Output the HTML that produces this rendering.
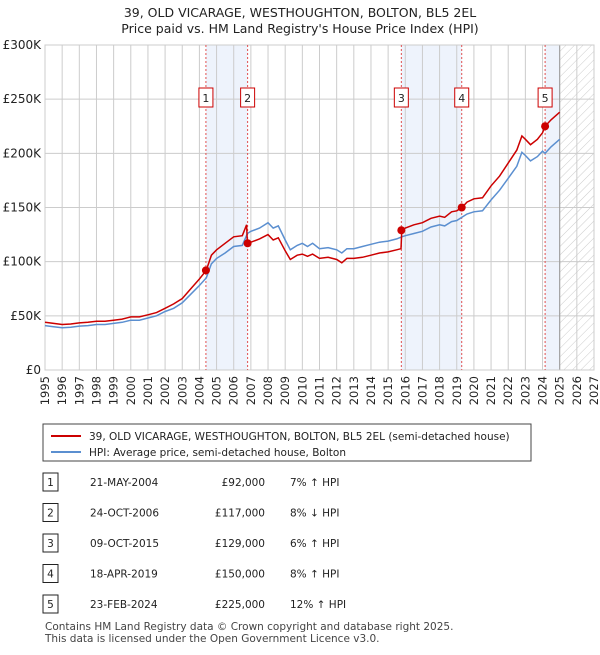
<!DOCTYPE html>
<html><head><meta charset="utf-8"><style>
body{margin:0;background:#fff;font-family:"Liberation Sans","DejaVu Sans",sans-serif;}
svg text{font-family:"DejaVu Sans","Liberation Sans",sans-serif;}
</style></head><body>
<svg id="c" width="600" height="650" xmlns="http://www.w3.org/2000/svg">
<defs><pattern id="hatch" width="6" height="6" patternUnits="userSpaceOnUse" patternTransform="rotate(45)"><line x1="0" y1="0" x2="0" y2="6" stroke="#ccc" stroke-width="1"/></pattern></defs>
<text x="300" y="17" text-anchor="middle" font-size="12.5" fill="#222">39, OLD VICARAGE, WESTHOUGHTON, BOLTON, BL5 2EL</text>
<text x="300" y="33" text-anchor="middle" font-size="12.5" fill="#222">Price paid vs. HM Land Registry's House Price Index (HPI)</text>
<g id="plot"></g>
<rect x="43" y="424" width="488" height="37" fill="#fff" stroke="#444"/>
<line x1="51" y1="436" x2="81" y2="436" stroke="#c00" stroke-width="2"/>
<text x="89" y="440" font-size="10.5" fill="#222">39, OLD VICARAGE, WESTHOUGHTON, BOLTON, BL5 2EL (semi-detached house)</text>
<line x1="51" y1="452" x2="81" y2="452" stroke="#5b8fd0" stroke-width="2"/>
<text x="89" y="456" font-size="10.5" fill="#222">HPI: Average price, semi-detached house, Bolton</text>
<g id="tbl"></g>
<text x="45" y="630" font-size="10.5" fill="#444">Contains HM Land Registry data © Crown copyright and database right 2025.</text>
<text x="45" y="642" font-size="10.5" fill="#444">This data is licensed under the Open Government Licence v3.0.</text>
</svg>
<script>
const hpiYears=[1995,1995.5,1996,1996.5,1997,1997.5,1998,1998.5,1999,1999.5,2000,2000.5,2001,2001.5,2002,2002.5,2003,2003.5,2004,2004.4,2004.7,2005,2005.5,2006,2006.5,2006.8,2007,2007.5,2008,2008.3,2008.6,2009,2009.3,2009.7,2010,2010.3,2010.6,2011,2011.5,2012,2012.3,2012.6,2013,2013.5,2014,2014.5,2015,2015.5,2015.8,2016,2016.5,2017,2017.5,2018,2018.3,2018.7,2019,2019.3,2019.6,2020,2020.5,2021,2021.5,2022,2022.5,2022.8,2023,2023.3,2023.7,2024,2024.15,2024.5,2025];
const hpiValues=[41,40,39,39.5,40.5,41,42,42,43,44,46,46,48,50,54,57,62,70,78,85,98,103,108,114,115,126,128,131,136,131,133,120,111,115,117,114,117,112,113,111,108,112,112,114,116,118,119,121,123,124,126,128,132,134,133,137,138,141,144,146,147,157,166,177,188,201,198,193,197,202,200,206,213];
const redYears=[1995,1995.5,1996,1996.5,1997,1997.5,1998,1998.5,1999,1999.5,2000,2000.5,2001,2001.5,2002,2002.5,2003,2003.5,2004,2004.4,2004.7,2005,2005.5,2006,2006.5,2006.75,2006.8,2007,2007.5,2008,2008.3,2008.6,2009,2009.3,2009.7,2010,2010.3,2010.6,2011,2011.5,2012,2012.3,2012.6,2013,2013.5,2014,2014.5,2015,2015.5,2015.75,2015.8,2016,2016.5,2017,2017.5,2018,2018.3,2018.7,2019,2019.3,2019.6,2020,2020.5,2021,2021.5,2022,2022.5,2022.8,2023,2023.3,2023.7,2024,2024.15,2024.5,2025];
const redValues=[44,43,42,42.5,43.5,44,45,45,46,47,49,49,51,53,57,61,66,75,84,92,106,111,117,123,124,134,117,118,121,125,120,122,110,102,106,107,105,107,103,104,102,99,103,103,104,106,108,109,111,112,129,131,134,136,140,142,141,146,147,150,155,158,159,170,179,191,203,216,213,208,213,219,225,231,238];
const saleLabels=["1","2","3","4","5"];
const saleYears=[2004.38,2006.81,2015.77,2019.29,2024.15];
const salePrices=[92,117,129,150,225];
const saleDates=["21-MAY-2004","24-OCT-2006","09-OCT-2015","18-APR-2019","23-FEB-2024"];
const salePriceText=["£92,000","£117,000","£129,000","£150,000","£225,000"];
const saleHpiText=["7% ↑ HPI","8% ↓ HPI","6% ↑ HPI","8% ↑ HPI","12% ↑ HPI"];
const yTicks=[0,50,100,150,200,250,300];
const yTickLabels=["£0","£50K","£100K","£150K","£200K","£250K","£300K"];

const NS="http://www.w3.org/2000/svg";
const X0=45,X1=594,Y0=370,Y1=45,YR0=1995,YR1=2027;
const xs=y=>X0+(y-YR0)/(YR1-YR0)*(X1-X0);
const ys=v=>Y0-v/300*(Y0-Y1);
const g=document.getElementById('plot');
function mk(t,a,p){const e=document.createElementNS(NS,t);for(const k in a)e.setAttribute(k,a[k]);(p||g).appendChild(e);return e;}
// shaded bands
[[0,1],[2,3]].forEach(([a,b])=>{const r=mk('rect',{x:xs(saleYears[a]),y:Y1,width:xs(saleYears[b])-xs(saleYears[a]),height:Y0-Y1,fill:'#eef3fc'});

});
{const r=mk('rect',{x:xs(saleYears[4]),y:Y1,width:xs(2025)-xs(saleYears[4]),height:Y0-Y1,fill:'#eef3fc'});

}
{const r=mk('rect',{x:xs(2025),y:Y1,width:X1-xs(2025),height:Y0-Y1,fill:'url(#hatch)'});

}
// grid
for(let y=YR0;y<=YR1;y++){const l=mk('line',{x1:xs(y),x2:xs(y),y1:Y1,y2:Y0,stroke:'#ccc','stroke-width':1});


const t=mk('text',{x:0,y:0,'font-size':11.5,fill:'#222','text-anchor':'end',transform:`translate(${xs(y)+4},${Y0+6}) rotate(-90)`});t.textContent=y;

}
yTicks.forEach((v,i)=>{const l=mk('line',{x1:X0,x2:X1,y1:ys(v),y2:ys(v),stroke:'#ccc','stroke-width':1});


const t=mk('text',{x:X0-4,y:ys(v)+4,'font-size':12,fill:'#222','text-anchor':'end'});t.textContent=yTickLabels[i];

});
{const l=mk('line',{x1:xs(2025),x2:xs(2025),y1:Y1,y2:Y0,stroke:'#999','stroke-width':1});

}
{const r=mk('rect',{x:X0,y:Y1,width:X1-X0,height:Y0-Y1,fill:'none',stroke:'#ccc'});

}
// sale vlines & labels
saleYears.forEach((y,i)=>{const l=mk('line',{x1:xs(y),x2:xs(y),y1:Y1,y2:Y0,stroke:'#e05050','stroke-width':1,'stroke-dasharray':'2,2'});


const r=mk('rect',{x:xs(y)-7,y:88,width:14,height:19,fill:'#fff',stroke:'#c00'});


const t=mk('text',{x:xs(y),y:102,'font-size':11,fill:'#222','text-anchor':'middle'});t.textContent=saleLabels[i];

});
// lines
const pts=(a,b)=>a.map((y,i)=>xs(y).toFixed(1)+','+ys(b[i]).toFixed(1)).join(' ');
{const p=mk('polyline',{points:pts(hpiYears,hpiValues),fill:'none',stroke:'#5b8fd0','stroke-width':1.5});

}
{const p=mk('polyline',{points:pts(redYears,redValues),fill:'none',stroke:'#c00','stroke-width':1.5});

}
saleYears.forEach((y,i)=>{const c=mk('circle',{cx:xs(y),cy:ys(salePrices[i]),r:4,fill:'#c00'});

});
// table
const tb=document.getElementById('tbl');
saleLabels.forEach((s,i)=>{const yy=482+i*30.5;
const r=mk('rect',{x:43,y:yy-9,width:15,height:18,fill:'#fff',stroke:'#222'},tb);


const cells=[[50.5,s,'middle'],[90,saleDates[i],'start'],[265,salePriceText[i],'end'],[290,saleHpiText[i],'start']];
cells.forEach(([x,txt,an],j)=>{const t=mk('text',{x:x,y:yy+4,'font-size':10.5,fill:'#222','text-anchor':an},tb);t.textContent=txt;

});});
</script>
</body></html>
